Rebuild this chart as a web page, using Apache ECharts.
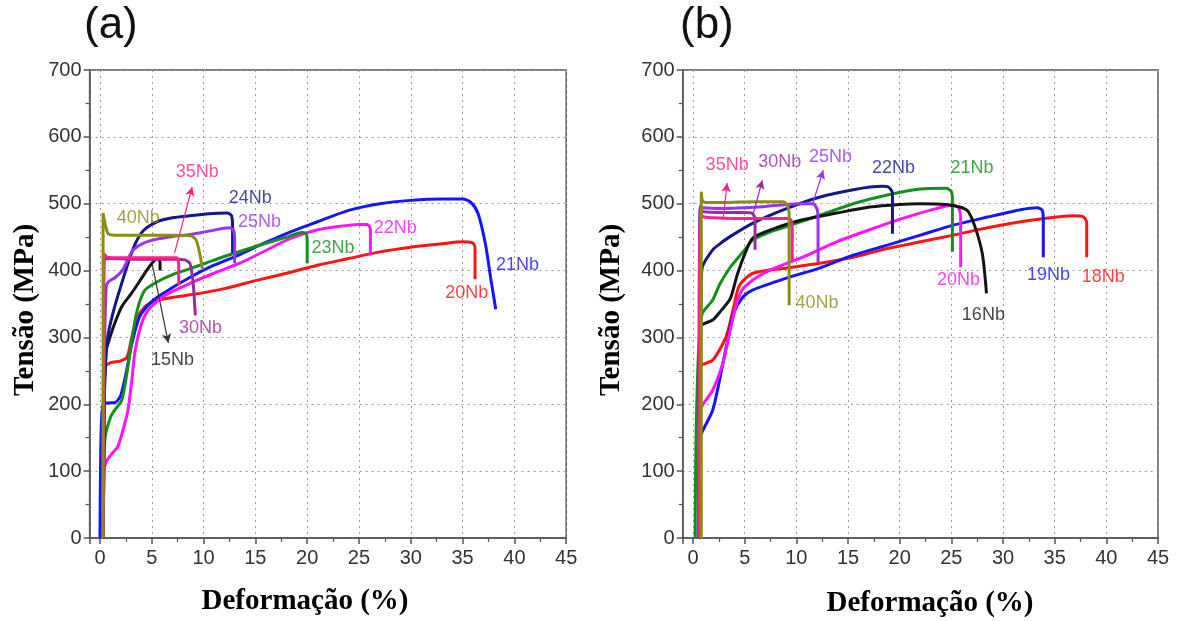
<!DOCTYPE html>
<html>
<head>
<meta charset="utf-8">
<script src="https://cdn.jsdelivr.net/npm/echarts/dist/echarts.min.js"></script>
<style>
  html, body { margin: 0; padding: 0; background: #fff; }
  #chart { width: 1181px; height: 621px; }
</style>
</head>
<body>
<div id="chart"></div>
<script>
// ---- painel (a): curvas tensão x deformação [deformação %, tensão MPa]
const a20Nb = [[0.3,0],[0.4,200],[0.5,256],[1.0,262],[2.0,265],[2.6,270],[3.0,295],[3.6,330],[4.5,348],[6,357],[8,362],[10,367],[12,373],[15,385],[18,396],[21,408],[24,418],[27,428],[30,435],[33,440],[35,443],[35.9,442],[36.2,435],[36.2,387]]
const a21Nb = [[0,0],[0.1,150],[0.3,200],[0.8,202],[1.5,203],[2.0,213],[2.5,245],[3.1,292],[3.8,330],[4.8,351],[6,365],[8.7,390],[11,408],[13.5,424],[16,442],[18.4,458],[21,473],[24,490],[27,500],[30,505],[33,507],[35,507],[35.8,502],[36.5,485],[37.2,440],[37.7,390],[38.2,342]]
const a22Nb = [[0.3,0],[0.4,100],[0.6,114],[1.2,127],[1.7,136],[2.2,160],[2.7,191],[3.1,240],[3.4,281],[4.0,320],[4.6,340],[5.3,351],[6.5,365],[8.7,381],[11,396],[13.5,411],[16,430],[18.4,448],[21,461],[23,466],[25,469],[25.8,469],[26.1,462],[26.1,423]]
const a23Nb = [[0.2,0],[0.3,22],[0.4,100],[0.5,151],[1.0,180],[1.4,191],[2.1,206],[2.7,256],[3.1,300],[3.6,341],[4.3,370],[5.5,383],[7,394],[8.7,403],[10,410],[12,421],[15,436],[18,450],[19.5,457],[19.9,455],[20.0,445],[20.0,411]]
const a24Nb = [[0.3,0],[0.4,200],[0.6,280],[0.8,306],[1.4,345],[2.1,381],[2.8,415],[3.4,440],[4.2,460],[5.5,473],[7,479],[8.7,482],[10.5,485],[12.3,486],[12.7,482],[12.8,465],[12.8,426]]
const a25Nb = [[0.3,0],[0.4,250],[0.6,375],[0.8,383],[1.5,390],[2.2,401],[2.8,420],[3.2,431],[4.2,441],[5.5,447],[7,451],[8.7,454],[10.5,459],[12.5,464],[12.9,460],[13.0,445],[13.0,411]]
const a15Nb = [[0.3,0],[0.4,200],[0.6,280],[0.8,292],[1.4,320],[2.1,346],[3,365],[3.7,381],[4.5,400],[5.3,416],[5.6,418],[5.8,412],[5.8,400]]
const a30Nb = [[0.3,0],[0.35,300],[0.4,416],[1,418],[3,417],[5,417],[7,417],[8.2,416],[8.7,410],[9.0,380],[9.2,333]]
const a35Nb = [[0.3,0],[0.35,300],[0.4,425],[0.7,420],[2,419],[4,419],[6,419],[7.4,419],[7.6,410],[7.6,378]]
const a40Nb = [[0.3,0],[0.3,486],[0.5,470],[0.8,455],[1.5,453],[3,453],[5,453],[7,453],[8.8,452],[9.3,445],[9.7,420],[9.9,401]]

// ---- painel (b)
const b18Nb = [[0.6,0],[0.7,200],[0.7,256],[1.9,266],[2.9,291],[3.4,311],[4.0,350],[4.5,378],[5.8,396],[9.1,404],[12.3,411],[15.5,420],[18.8,433],[22,443],[25.2,453],[28.5,464],[31.7,473],[34,478],[36.8,482],[37.7,481],[38.1,472],[38.1,420]]
const b19Nb = [[0.5,0],[0.6,120],[0.7,151],[1.9,191],[2.9,262],[3.4,300],[3.9,335],[4.8,360],[5.8,371],[9.1,389],[12.3,404],[15.5,423],[18.8,438],[22,453],[25.2,468],[28.5,480],[31.7,491],[33.3,494],[33.8,490],[33.9,475],[33.9,420]]
const b20Nb = [[0.5,0],[0.6,150],[0.7,191],[1.9,221],[2.9,262],[3.6,311],[4.2,350],[4.8,372],[6,388],[7.5,401],[10.6,420],[13.9,443],[17.1,461],[20.3,478],[23.6,493],[25.2,498],[25.7,494],[25.9,480],[25.9,405]]
const b16Nb = [[0.6,0],[0.6,250],[0.7,316],[1.9,326],[2.6,338],[3.6,358],[4.3,395],[5.2,432],[5.8,449],[7.5,461],[10.6,476],[13.9,486],[17.1,495],[20,499],[22,500],[24.5,499],[25.8,495],[26.6,489],[27.3,465],[28.0,425],[28.4,366]]
const b21Nb = [[0.2,0],[0.3,160],[0.6,300],[0.9,336],[1.9,356],[2.6,380],[3.6,405],[4.3,418],[5.2,435],[5.8,446],[7.5,458],[9.1,466],[12.3,483],[15.5,500],[18.8,513],[22,522],[24.5,523],[25.0,518],[25.1,505],[25.1,428]]
const b22Nb = [[0.7,0],[0.7,150],[0.8,380],[0.9,405],[1.9,431],[2.6,440],[3.5,450],[5.8,471],[9.1,493],[12.3,510],[15.5,521],[18.3,526],[18.9,525],[19.3,516],[19.3,455]]
const b25Nb = [[0.65,0],[0.65,300],[0.7,497],[1,494],[3,493],[5,494],[7,496],[9,499],[10.5,500],[11.6,500],[12.0,492],[12.1,475],[12.1,413]]
const b30Nb = [[0.6,0],[0.6,300],[0.7,492],[1,488],[3,487],[5,487],[5.7,486],[6.0,478],[6.0,431]]
const b35Nb = [[0.6,0],[0.6,300],[0.7,490],[0.9,481],[2,479],[4,478],[6,478],[8,478],[9.3,478],[9.6,470],[9.6,413]]
const b40Nb = [[0.8,0],[0.8,518],[0.9,505],[1.2,502],[3,502],[6,503],[8.7,503],[9.1,499],[9.3,485],[9.3,348]]

// rótulos: [texto, deformação, tensão]
const labelsA = [['40Nb',3.7,479],['35Nb',9.4,547],['24Nb',14.5,508],['25Nb',15.4,473],['30Nb',9.7,314],['15Nb',7.0,266],['23Nb',22.5,434],['22Nb',28.5,464],['20Nb',35.4,366],['21Nb',40.3,408]]
const labelsB = [['35Nb',3.3,558],['30Nb',8.4,562],['25Nb',13.3,570],['22Nb',19.4,553],['21Nb',27.0,553],['40Nb',12.0,351],['20Nb',25.7,386],['16Nb',28.1,334],['19Nb',34.4,393],['18Nb',39.7,390]]
// setas: [rótulo, x0, y0, x1, y1]
const arrowsA = [['35Nb',7.2,426,8.9,525],['15Nb',5.0,413,6.6,292]]
const arrowsB = [['35Nb',2.9,476,3.3,531],['30Nb',5.8,483,6.7,535],['25Nb',11.6,501,12.6,550]]

const colA = { '20Nb': '#ff1414', '21Nb': '#1414ff', '22Nb': '#ff14ff', '23Nb': '#12901a', '24Nb': '#16168c', '25Nb': '#9a32f0', '15Nb': '#141414', '30Nb': '#9a2c9a', '35Nb': '#ff2090', '40Nb': '#8c8c12' }
const colB = { '18Nb': '#ff1414', '19Nb': '#1414ff', '20Nb': '#ff14ff', '21Nb': '#12901a', '22Nb': '#16168c', '25Nb': '#9a32f0', '16Nb': '#141414', '30Nb': '#9a2c9a', '35Nb': '#ff2090', '40Nb': '#8c8c12' }

const curvesA = [['20Nb', a20Nb], ['21Nb', a21Nb], ['22Nb', a22Nb], ['23Nb', a23Nb], ['15Nb', a15Nb], ['24Nb', a24Nb], ['25Nb', a25Nb], ['30Nb', a30Nb], ['35Nb', a35Nb], ['40Nb', a40Nb]]
const curvesB = [['18Nb', b18Nb], ['19Nb', b19Nb], ['20Nb', b20Nb], ['21Nb', b21Nb], ['16Nb', b16Nb], ['22Nb', b22Nb], ['25Nb', b25Nb], ['30Nb', b30Nb], ['35Nb', b35Nb], ['40Nb', b40Nb]]

const tickFont = { fontFamily: 'Liberation Sans', fontSize: 20, color: '#333' }
const titleFont = 'bold 29px "Liberation Serif"'

function xAxisFor(i) {
  return {
    type: 'value', gridIndex: i, min: -1, max: 45, minInterval: 5, maxInterval: 5, splitNumber: 9,
    axisLine: { onZero: false, lineStyle: { color: '#555', width: 1.5 } },
    axisTick: { length: 6, lineStyle: { color: '#555', width: 1.5 } },
    minorTick: { show: true, splitNumber: 2, length: 4, lineStyle: { color: '#555', width: 1.2 } },
    axisLabel: Object.assign({ margin: 10, formatter: v => (v < 0 ? '' : v) }, tickFont),
    splitLine: { show: true, lineStyle: { color: '#9a9a9a', type: [2, 4], width: 1 } }
  }
}
function yAxisFor(i) {
  return {
    type: 'value', gridIndex: i, min: 0, max: 700, interval: 100,
    axisLine: { show: true, onZero: false, lineStyle: { color: '#555', width: 1.5 } },
    axisTick: { show: true, length: 6, lineStyle: { color: '#555', width: 1.5 } },
    minorTick: { show: true, splitNumber: 2, length: 4, lineStyle: { color: '#555', width: 1.2 } },
    axisLabel: Object.assign({ margin: 8 }, tickFont),
    splitLine: { show: true, lineStyle: { color: '#9a9a9a', type: [2, 4], width: 1 } }
  }
}

function curveSeries(list, cols, i) {
  return list.map(([name, data]) => ({
    name: name, type: 'line', xAxisIndex: i, yAxisIndex: i, data: data,
    showSymbol: false, smooth: 0.25, silent: true,
    lineStyle: { width: 3, color: cols[name] }, itemStyle: { color: cols[name] }
  }))
}

function labelSeries(labels, arrows, cols, i) {
  return {
    type: 'scatter', xAxisIndex: i, yAxisIndex: i, symbolSize: 0, silent: true, z: 5,
    data: labels.map(([t, x, y]) => ({
      value: [x, y], name: t,
      label: { show: true, position: 'inside', formatter: t, color: cols[t], fontFamily: 'Liberation Sans', fontSize: 18 }
    })),
    markLine: {
      silent: true, symbol: ['none', 'arrow'], symbolSize: [7, 9], label: { show: false },
      data: arrows.map(([t, x0, y0, x1, y1]) => [
        { coord: [x0, y0], lineStyle: { color: t === '15Nb' ? '#333' : cols[t], width: 1.2, type: 'solid' } },
        { coord: [x1, y1] }
      ])
    }
  }
}

const chart = echarts.init(document.getElementById('chart'))
const option = {
  animation: false,
  backgroundColor: '#fff',
  grid: [
    { left: 89.6, top: 70, width: 476.6, height: 468, show: true, borderColor: '#555', borderWidth: 1.5 },
    { left: 682.7, top: 70, width: 475.3, height: 468, show: true, borderColor: '#555', borderWidth: 1.5 }
  ],
  xAxis: [xAxisFor(0), xAxisFor(1)],
  yAxis: [yAxisFor(0), yAxisFor(1)],
  series: [
    ...curveSeries(curvesA, colA, 0),
    ...curveSeries(curvesB, colB, 1),
    labelSeries(labelsA, arrowsA, colA, 0),
    labelSeries(labelsB, arrowsB, colB, 1)
  ],
  graphic: [
    { type: 'text', x: 84, y: 4, style: { text: '(a)', font: '44px "Liberation Sans"', fill: '#111' } },
    { type: 'text', x: 680, y: 4, style: { text: '(b)', font: '44px "Liberation Sans"', fill: '#111' } },
    { type: 'text', x: 305, y: 602, style: { text: 'Deformação (%)', font: titleFont, fill: '#000', align: 'center', verticalAlign: 'middle', textAlign: 'center', textVerticalAlign: 'middle' } },
    { type: 'text', x: 930, y: 604, style: { text: 'Deformação (%)', font: titleFont, fill: '#000', align: 'center', verticalAlign: 'middle', textAlign: 'center', textVerticalAlign: 'middle' } },
    { type: 'text', x: 26, y: 310, rotation: Math.PI / 2, style: { text: 'Tensão (MPa)', font: titleFont, fill: '#000', align: 'center', verticalAlign: 'middle', textAlign: 'center', textVerticalAlign: 'middle' } },
    { type: 'text', x: 612, y: 310, rotation: Math.PI / 2, style: { text: 'Tensão (MPa)', font: titleFont, fill: '#000', align: 'center', verticalAlign: 'middle', textAlign: 'center', textVerticalAlign: 'middle' } }
  ]
}
option && chart.setOption(option)
</script>
</body>
</html>
